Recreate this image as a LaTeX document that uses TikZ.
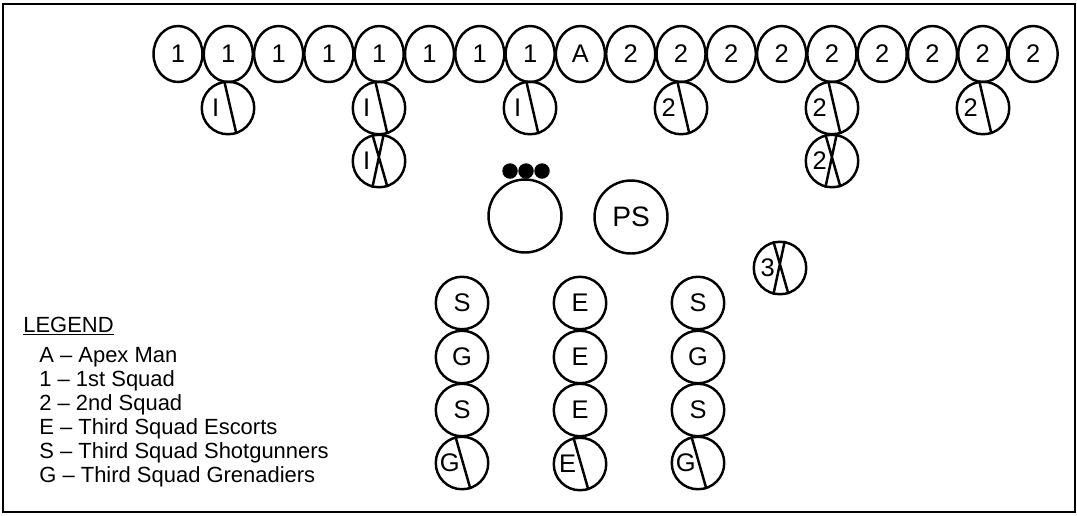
\documentclass[tikz,border=0pt]{standalone}
\usepackage{fontspec}
\setmainfont{Liberation Sans}
\usetikzlibrary{positioning,shapes.geometric}

\begin{document}
\begin{tikzpicture}[x=0.02cm,y=-0.02cm,
  man/.style={circle,draw,line width=1.4pt,inner sep=0pt,minimum size=1.05cm,font=\fontsize{14.5}{17}\selectfont},
  front/.style={ellipse,draw,line width=1.4pt,inner sep=0pt,minimum width=0.98cm,minimum height=1.12cm,font=\fontsize{14.5}{17}\selectfont},
  half/.style={man,label={[font=\fontsize{14.5}{17}\selectfont,xshift=-7pt]center:#1}},
  big/.style={man,minimum size=1.46cm,font=\fontsize{16}{19}\selectfont},
  dot/.style={circle,fill=black,inner sep=0pt,minimum size=0.31cm},
  slash/.style={line width=1.4pt},
  legend/.style={anchor=base west,inner sep=0pt,font=\fontsize{12.5}{15}\selectfont}]
\useasboundingbox (0,0) rectangle (1077,515);
\draw[line width=1.2pt] (3,4) rectangle (1075,512);

% point line
\node[front] (t1) at (178,54) {1};
\node[front] (t2) at (228.3,54) {1};
\node[front] (t3) at (278.6,54) {1};
\node[front] (t4) at (328.9,54) {1};
\node[front] (t5) at (379.2,54) {1};
\node[front] (t6) at (429.5,54) {1};
\node[front] (t7) at (479.8,54) {1};
\node[front] (t8) at (530.1,54) {1};
\node[front] (tA) at (580.4,54) {A};
\node[front] (t10) at (630.7,54) {2};
\node[front] (t11) at (681,54) {2};
\node[front] (t12) at (731.3,54) {2};
\node[front] (t13) at (781.6,54) {2};
\node[front] (t14) at (831.9,54) {2};
\node[front] (t15) at (882.2,54) {2};
\node[front] (t16) at (932.5,54) {2};
\node[front] (t17) at (982.8,54) {2};
\node[front] (t18) at (1033.1,54) {2};

% second and third lines
\node[half=I] (p1) at (228,108) {};
\node[half=I] (p2) at (379,108) {};
\node[half=I] (p3) at (530,108) {};
\node[half=2] (p4) at (681,108) {};
\node[half=2] (p5) at (832,108) {};
\node[half=2] (p6) at (983,108) {};
\draw[slash] (p1.98) -- (p1.-72);
\draw[slash] (p2.98) -- (p2.-72);
\draw[slash] (p3.98) -- (p3.-72);
\draw[slash] (p4.98) -- (p4.-72);
\draw[slash] (p5.98) -- (p5.-72);
\draw[slash] (p6.98) -- (p6.-72);

\node[half=I] (q1) at (379,161) {};
\node[half=2] (q2) at (832,161) {};
\node[half=3] (q3) at (780,268) {};
\draw[slash] (q1.104) -- (q1.-72) (q1.80) -- (q1.-104);
\draw[slash] (q2.104) -- (q2.-72) (q2.80) -- (q2.-104);
\draw[slash] (q3.104) -- (q3.-72) (q3.80) -- (q3.-104);

% centre
\node[big] (vip) at (525,216) {};
\node[dot] (d1) at (510,171) {};
\node[dot] (d2) at (526,171) {};
\node[dot] (d3) at (542,171) {};
\node[big] (ps) at (631,217) {PS};

% third squad
\node[man] (s1) at (462,303) {S};
\node[man] (s2) at (462,357) {G};
\node[man] (s3) at (462,410) {S};
\node[half=G] (s4) at (462,463) {};
\node[man] (e1) at (580,303) {E};
\node[man] (e2) at (580,357) {E};
\node[man] (e3) at (580,410) {E};
\node[half=E] (e4) at (580,464) {};
\node[man] (r1) at (698,303) {S};
\node[man] (r2) at (698,357) {G};
\node[man] (r3) at (698,410) {S};
\node[half=G] (r4) at (698,463) {};
\draw[slash] (s4.104) -- (s4.-72);
\draw[slash] (e4.104) -- (e4.-72);
\draw[slash] (r4.104) -- (r4.-72);

% legend
\node[legend] (lg) at (23,332) {\underline{LEGEND}};
\node[legend] (l1) at (39,362) {A -- Apex Man};
\node[legend] (l2) at (39,386) {1 -- 1st Squad};
\node[legend] (l3) at (39,410) {2 -- 2nd Squad};
\node[legend] (l4) at (39,434) {E -- Third Squad Escorts};
\node[legend] (l5) at (39,458) {S -- Third Squad Shotgunners};
\node[legend] (l6) at (39,482) {G -- Third Squad Grenadiers};

\end{tikzpicture}
\end{document}
